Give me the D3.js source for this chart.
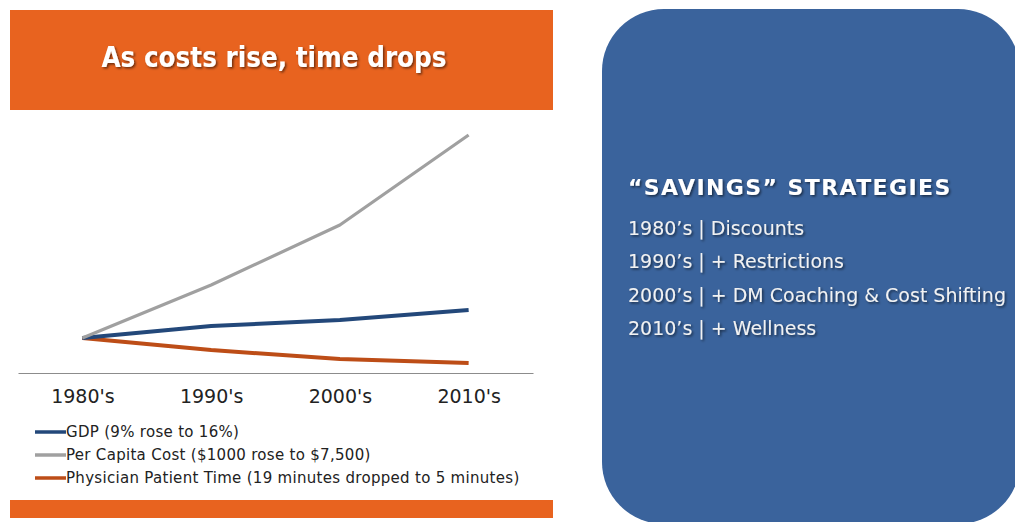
<!DOCTYPE html>
<html>
<head>
<meta charset="utf-8">
<script src="https://cdn.jsdelivr.net/npm/d3@7"></script>
<style>
  html, body { margin: 0; padding: 0; background: #fff; }
  svg { display: block; }
</style>
</head>
<body>
<svg id="chart" width="1015" height="522"></svg>
<script>
// decades on the x axis
const decades = ["1980's", "1990's", "2000's", "2010's"];

// indexed values (common start in 1980's)
const gdpValues = [35, 47, 53, 63];
const costValues = [35, 88, 148, 238];
const timeValues = [35, 23, 14, 10];

const seriesNames = [
    "GDP (9% rose to 16%)",
    "Per Capita Cost ($1000 rose to $7,500)",
    "Physician Patient Time (19 minutes dropped to 5 minutes)"
];
const seriesColors = ["#23487A", "#A0A0A0", "#BD4D17"];

const strategyTitle = "\u201CSAVINGS\u201D STRATEGIES";
const strategies = [
    "1980\u2019s | Discounts",
    "1990\u2019s | + Restrictions",
    "2000\u2019s | + DM Coaching & Cost Shifting",
    "2010\u2019s | + Wellness"
];

const svg = d3.select('#chart');

// shadow for the white heading text
const defs = svg.append('defs');
const shadow = defs.append('filter').attr('id', 'shadow')
    .attr('x', '-10%').attr('y', '-30%').attr('width', '120%').attr('height', '160%');
shadow.append('feDropShadow')
    .attr('dx', 1.5).attr('dy', 1.5).attr('stdDeviation', 0.8)
    .attr('flood-color', '#000').attr('flood-opacity', 0.55);

// orange header banner
svg.append('rect')
    .attr('x', 10).attr('y', 10).attr('width', 543).attr('height', 100)
    .attr('fill', '#E8631F');

svg.append('text')
    .attr('x', 274).attr('y', 67)
    .attr('text-anchor', 'middle')
    .attr('font-family', 'DejaVu Sans Condensed, DejaVu Sans, sans-serif')
    .attr('font-weight', 'bold')
    .attr('font-size', 27.5)
    .attr('fill', '#fff')
    .attr('filter', 'url(#shadow)')
    .text('As costs rise, time drops');

// bottom orange strip
svg.append('rect')
    .attr('x', 10).attr('y', 500).attr('width', 543).attr('height', 18)
    .attr('fill', '#E8631F');

// line chart
const x = d3.scalePoint()
    .domain(decades)
    .range([18, 533])
    .padding(0.5);

const y = d3.scaleLinear()
    .domain([0, 250])
    .range([373, 123]);

const xAxis = svg.append('g')
    .attr('transform', 'translate(0, 373)')
    .call(d3.axisBottom(x).tickSize(0).tickPadding(17));

xAxis.select('.domain').attr('stroke', '#8c8c8c').attr('stroke-width', 1.2);
xAxis.selectAll('text')
    .attr('font-family', 'DejaVu Sans, sans-serif')
    .attr('font-size', 19)
    .attr('fill', '#222');

const line = d3.line()
    .x((d, i) => x(decades[i]))
    .y(d => y(d));

const seriesList = [gdpValues, costValues, timeValues];
const widths = [4, 3.2, 4];
// draw order: time, gdp, cost on top at start
[2, 0, 1].forEach(i => {
    svg.append('path')
        .datum(seriesList[i])
        .attr('fill', 'none')
        .attr('stroke', seriesColors[i])
        .attr('stroke-width', widths[i])
        .attr('stroke-linejoin', 'round')
        .attr('d', line);
});

// legend
const legend = svg.append('g').attr('transform', 'translate(35, 432)');
seriesNames.forEach((name, i) => {
    const row = legend.append('g').attr('transform', `translate(0, ${i * 23})`);
    row.append('line')
        .attr('x1', 0).attr('x2', 31)
        .attr('stroke', seriesColors[i])
        .attr('stroke-width', 3.5);
    row.append('text')
        .attr('x', 31).attr('y', 5)
        .attr('font-family', 'DejaVu Sans, sans-serif')
        .attr('font-size', 15)
        .attr('letter-spacing', 0.3)
        .attr('fill', '#222')
        .text(name);
});

// blue panel on the right
svg.append('rect')
    .attr('x', 602).attr('y', 9).attr('width', 418).attr('height', 515)
    .attr('rx', 62).attr('ry', 62)
    .attr('fill', '#3A639C');

svg.append('text')
    .attr('x', 628).attr('y', 195)
    .attr('font-family', 'DejaVu Sans, sans-serif')
    .attr('font-weight', 'bold')
    .attr('font-size', 22)
    .attr('letter-spacing', 1.4)
    .attr('fill', '#fff')
    .attr('filter', 'url(#shadow)')
    .text(strategyTitle);

svg.append('g')
    .selectAll('text')
    .data(strategies)
    .join('text')
    .attr('x', 628)
    .attr('y', (d, i) => 235 + i * 33.3)
    .attr('font-family', 'DejaVu Sans, sans-serif')
    .attr('font-size', 19)
    .attr('fill', '#F2F2F2')
    .attr('filter', 'url(#shadow)')
    .text(d => d);
</script>
</body>
</html>
